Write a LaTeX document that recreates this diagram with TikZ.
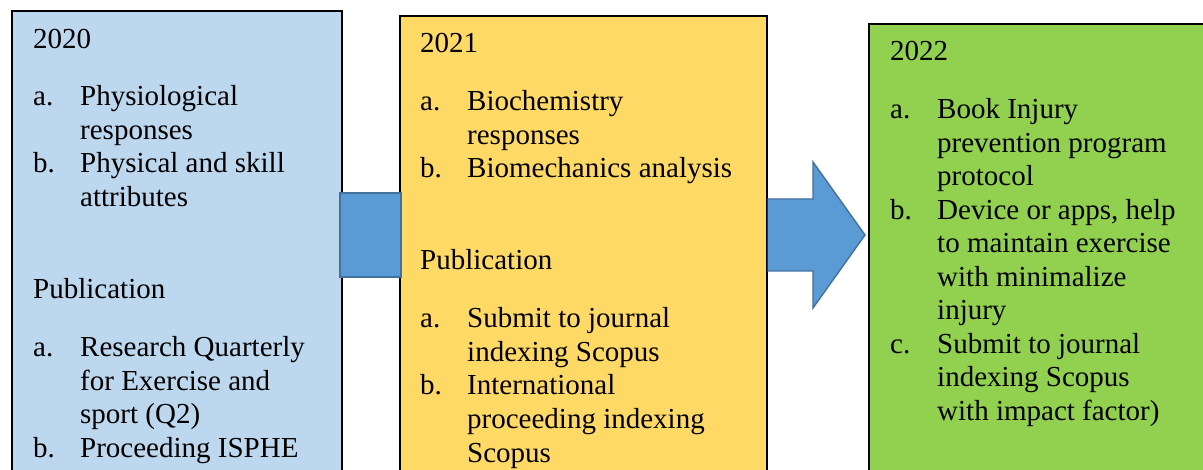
\documentclass[tikz,border=0pt]{standalone}
\usepackage{fontspec}
\setmainfont{Liberation Serif}
\definecolor{boxblue}{HTML}{BDD7EE}
\definecolor{boxyellow}{HTML}{FFD966}
\definecolor{boxgreen}{HTML}{92D050}
\definecolor{arrowfill}{HTML}{5B9BD5}
\definecolor{arrowline}{HTML}{41719C}
\tikzset{
  yearbox/.style={draw=black, line width=1.6pt, rectangle, inner sep=0pt, anchor=north west},
  lbl/.style={inner sep=0pt, anchor=base west, font=\fontsize{29}{33.5}\selectfont},
  blockarrow/.style={fill=arrowfill, draw=arrowline, line width=1.4pt, line join=miter},
}
\newcommand\putline[4]{\node[lbl] (#1) at (#2,#3) {#4};}
\begin{document}
\begin{tikzpicture}[x=1pt, y=-1pt]
\clip (0,0) rectangle (1203,470);
\fill[white] (0,0) rectangle (1203,470);

% the three yearly boxes (they run off the lower edge)
\node[yearbox, fill=boxblue,   minimum width=330pt, minimum height=500pt] (box20) at (11,10) {};
\node[yearbox, fill=boxyellow, minimum width=367pt, minimum height=500pt] (box21) at (399,15) {};
\node[yearbox, fill=boxgreen,  minimum width=360pt, minimum height=500pt] (box22) at (868,23) {};

% block between 2020 and 2021
\draw[blockarrow] (340,193) rectangle (401,277);
% block arrow from 2021 to 2022
\coordinate (tip) at (box22.west |- 0,235);
\draw[blockarrow] (box21.east |- 0,199) -- (813,199) -- (813,162) -- (865,235)
  -- (813,308) -- (813,271) -- (box21.east |- 0,271);

% 2020
\putline{y20}{33}{49}{2020}
\putline{b20a}{33}{106}{a.}
\putline{t20a1}{80}{106}{Physiological}
\putline{t20a2}{80}{139.5}{responses}
\putline{b20b}{33}{173}{b.}
\putline{t20b1}{80}{173}{Physical and skill}
\putline{t20b2}{80}{206.5}{attributes}
\putline{p20}{33}{299}{Publication}
\putline{b20c}{33}{357}{a.}
\putline{t20c1}{80}{357}{Research Quarterly}
\putline{t20c2}{80}{390.5}{for Exercise and}
\putline{t20c3}{80}{424}{sport (Q2)}
\putline{b20d}{33}{457.5}{b.}
\putline{t20d1}{80}{457.5}{Proceeding ISPHE}

% 2021
\putline{y21}{420}{53}{2021}
\putline{b21a}{420}{111}{a.}
\putline{t21a1}{467}{111}{Biochemistry}
\putline{t21a2}{467}{144.5}{responses}
\putline{b21b}{420}{178}{b.}
\putline{t21b1}{467}{178}{Biomechanics analysis}
\putline{p21}{420}{270}{Publication}
\putline{b21c}{420}{328}{a.}
\putline{t21c1}{467}{328}{Submit to journal}
\putline{t21c2}{467}{361.5}{indexing Scopus}
\putline{b21d}{420}{395}{b.}
\putline{t21d1}{467}{395}{International}
\putline{t21d2}{467}{428.5}{proceeding indexing}
\putline{t21d3}{467}{462}{Scopus}

% 2022
\putline{y22}{890}{61}{2022}
\putline{b22a}{890}{119}{a.}
\putline{t22a1}{937}{119}{Book Injury}
\putline{t22a2}{937}{152.5}{prevention program}
\putline{t22a3}{937}{186}{protocol}
\putline{b22b}{890}{219.5}{b.}
\putline{t22b1}{937}{219.5}{Device or apps, help}
\putline{t22b2}{937}{253}{to maintain exercise}
\putline{t22b3}{937}{286.5}{with minimalize}
\putline{t22b4}{937}{320}{injury}
\putline{b22c}{890}{353.5}{c.}
\putline{t22c1}{937}{353.5}{Submit to journal}
\putline{t22c2}{937}{387}{indexing Scopus}
\putline{t22c3}{937}{420.5}{with impact factor)}
\end{tikzpicture}
\end{document}
